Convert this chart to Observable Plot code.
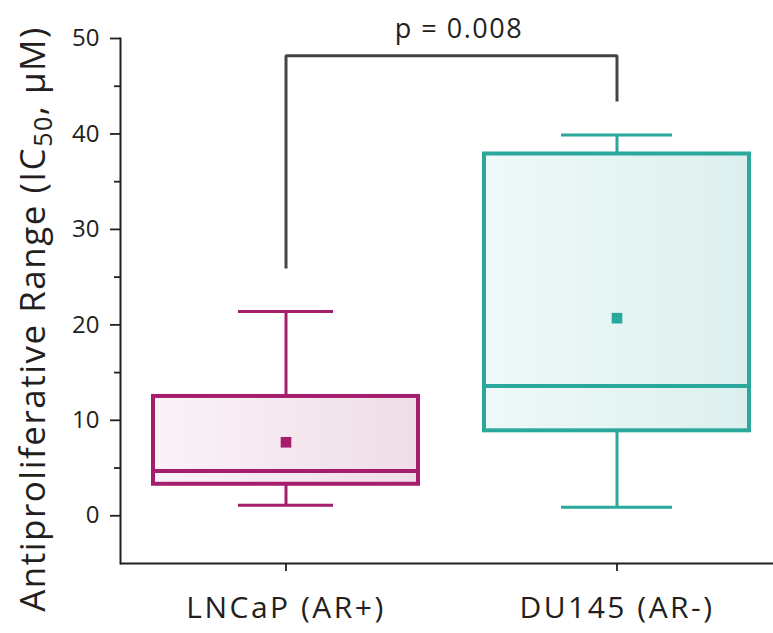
<!DOCTYPE html>
<html>
<head>
<meta charset="utf-8">
<script src="https://cdn.jsdelivr.net/npm/d3@7"></script>
<script src="https://cdn.jsdelivr.net/npm/@observablehq/plot@0.6"></script>
<style>
  html, body { margin: 0; padding: 0; background: #fff; }
  #chart svg { display: block; }
  .xlab text { letter-spacing: 2.5px; }
  .plab text { letter-spacing: 1.5px; }
  .ylab text { letter-spacing: 1.5px; }
</style>
</head>
<body>
<svg width="0" height="0" style="position:absolute">
  <defs>
    <linearGradient id="gradMagenta" x1="0" y1="0" x2="1" y2="0">
      <stop offset="0" stop-color="#faf3f7"/>
      <stop offset="1" stop-color="#efdde7"/>
    </linearGradient>
    <linearGradient id="gradTeal" x1="0" y1="0" x2="1" y2="0">
      <stop offset="0" stop-color="#eff9f9"/>
      <stop offset="1" stop-color="#dcefee"/>
    </linearGradient>
  </defs>
</svg>
<div id="chart"></div>
<script>
// ---- data ----
const categories = ["LNCaP (AR+)", "DU145 (AR-)"];
const whiskerLow = [1.1, 0.9];
const q1 = [3.3, 8.9];
const median = [4.7, 13.6];
const q3 = [12.5, 37.9];
const whiskerHigh = [21.4, 39.9];
const mean = [7.7, 20.7];
const strokeColors = ["#a51d6d", "#2aa89b"];
const fillColors = ["url(#gradMagenta)", "url(#gradTeal)"];
const bracketX = [categories[0], categories[0], categories[1], categories[1]];
const bracketY = [25.9, 48.2, 48.2, 43.4];
const pLabel = "p = 0.008";
const yTicks = [0, 10, 20, 30, 40, 50];
const yMinorTicks = [5, 15, 25, 35, 45];
const yLabel = "Antiproliferative Range (IC50, μM)";

// ---- tables ----
const boxes = categories.map((c, i) => ({
  cat: c, lo: whiskerLow[i], q1: q1[i], med: median[i], q3: q3[i], hi: whiskerHigh[i],
  mean: mean[i], stroke: strokeColors[i], fill: fillColors[i]
}));
const bracket = bracketX.map((x, i) => ({x, y: bracketY[i]}));
const capInsets = [118, 110];

const ink = "#231f20";

const plot = Plot.plot({
  width: 773,
  height: 633,
  marginLeft: 120,
  marginRight: 0,
  marginTop: 38,
  marginBottom: 70,
  style: {fontFamily: "'Open Sans', sans-serif", color: ink, background: "white"},
  x: {type: "band", domain: categories, range: [119.2, 782.6], padding: 0, label: null},
  y: {domain: [-5, 50], label: null},
  marks: [
    // axes
    Plot.ruleY([-5], {stroke: ink, strokeWidth: 2}),
    Plot.frame({anchor: "left", stroke: ink, strokeWidth: 2}),
    Plot.axisY({ticks: yTicks, tickSize: 10, tickPadding: 11, fontSize: 24, strokeWidth: 1.8, label: null}),
    Plot.axisY({ticks: yMinorTicks, tickSize: 6, tickFormat: () => "", strokeWidth: 1.8, label: null}),
    Plot.axisX({tickSize: 8, tickPadding: 25, fontSize: 30, strokeWidth: 1.8, label: null, className: "xlab"}),
    // whiskers
    Plot.ruleX(boxes, {x: "cat", y1: "q3", y2: "hi", stroke: "stroke", strokeWidth: 3}),
    Plot.ruleX(boxes, {x: "cat", y1: "lo", y2: "q1", stroke: "stroke", strokeWidth: 3}),
    ...boxes.map((b, i) => Plot.tickY([b], {x: "cat", y: "hi", stroke: "stroke", strokeWidth: 3, insetLeft: capInsets[i], insetRight: capInsets[i]})),
    ...boxes.map((b, i) => Plot.tickY([b], {x: "cat", y: "lo", stroke: "stroke", strokeWidth: 3, insetLeft: capInsets[i], insetRight: capInsets[i]})),
    // boxes
    Plot.barY(boxes, {x: "cat", y1: "q1", y2: "q3", fill: "fill", stroke: "stroke", strokeWidth: 4, insetLeft: 33, insetRight: 33}),
    Plot.tickY(boxes, {x: "cat", y: "med", stroke: "stroke", strokeWidth: 4, insetLeft: 33, insetRight: 33}),
    Plot.dot(boxes, {x: "cat", y: "mean", symbol: "square", r: 6, fill: "stroke", stroke: null}),
    // significance bracket
    Plot.line(bracket, {x: "x", y: "y", stroke: "#444", strokeWidth: 3, curve: "linear", strokeLinejoin: "miter", strokeLinecap: "butt"}),
    Plot.text([pLabel], {frameAnchor: "top", dx: 12, dy: -1, lineAnchor: "bottom", fontSize: 27, fill: ink, className: "plab"}),
    // y label
    Plot.text([yLabel], {frameAnchor: "left", rotate: -90, textAnchor: "middle", dx: -87, dy: 18, fontSize: 35, fill: ink, className: "ylab"})
  ]
});

document.getElementById("chart").append(plot);

// subscript for IC50
const t = d3.select(plot).select(".ylab text");
if (!t.empty()) {
  t.text(null);
  t.append("tspan").text("Antiproliferative Range (IC");
  t.append("tspan").attr("font-size", "25").attr("dy", "7").text("50");
  t.append("tspan").attr("dy", "-7").text(", μM)");
}
</script>
</body>
</html>
